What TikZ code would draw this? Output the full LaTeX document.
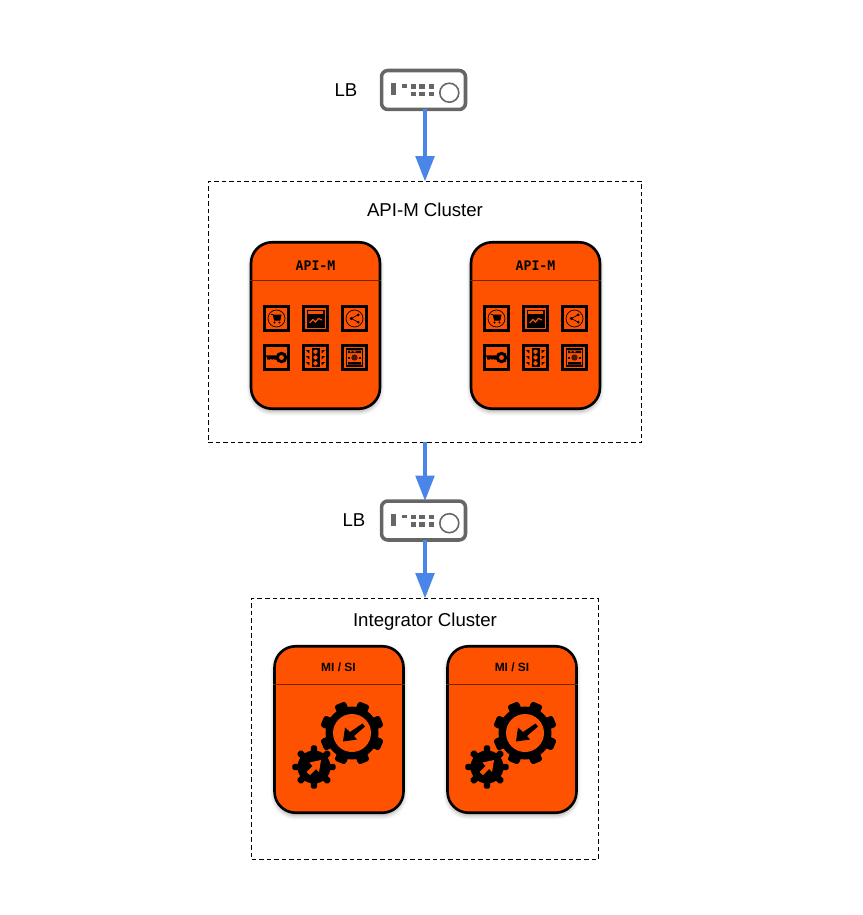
\documentclass[tikz,border=0pt]{standalone}
\usepackage{fontspec}
\setmainfont{Liberation Sans}
\newfontfamily\headfont{DejaVu Sans Mono}
\usepackage{tikz}
\usetikzlibrary{arrows.meta, shadows.blur}
\definecolor{cardorange}{HTML}{FF5200}
\definecolor{flowblue}{HTML}{4A86E8}
\definecolor{lbgray}{HTML}{666666}
\tikzset{
    clusterbox/.style={draw=black, line width=0.55pt, dash pattern=on 2.6pt off 1.7pt, minimum width=8.68cm, minimum height=5.22cm, outer sep=0pt},
    intbox/.style={clusterbox, minimum width=6.94cm},
    lbbox/.style={draw=lbgray, fill=white, line width=2pt, rounded corners=3.6pt, minimum width=1.68cm, minimum height=0.78cm, outer sep=0pt},
    cardbox/.style={draw=black, fill=cardorange, line width=1.5pt, rounded corners=12pt, minimum width=2.58cm, minimum height=3.33cm, blur shadow={shadow xshift=0pt, shadow yshift=-1.5pt, shadow blur steps=6, shadow blur radius=2.5pt, shadow opacity=35}},
    flow/.style={draw=flowblue, line width=2.3pt, -{Triangle[length=14.5pt, width=10.5pt, fill=flowblue]}},
    lbl/.style={font=\fontsize{10.6}{12}\selectfont},
    apihead/.style={font=\headfont\fontsize{7.5}{9}\selectfont\bfseries},
    mihead/.style={font=\fontsize{6.8}{8}\selectfont\bfseries},
    iconframe/.style={draw=black, line width=1.7pt},
    thinline/.style={draw=black, line width=0.4pt},
    headrule/.style={draw=black!55!cardorange, line width=0.45pt},
    lbicon/.pic={
        \fill[lbgray] (-33,-6.7) rectangle (-27.5,5);
        \fill[lbgray] (-22,-6) rectangle (-17,-2.3);
        \foreach \x in {-13,-4.3,5}
            \foreach \y in {-6,1.7}
                \fill[lbgray] (\x,\y) rectangle ++(5.3,4.6);
        \draw[lbgray, line width=0.9pt] (25.8,2.7) circle[radius=9.5];
    },
    apiicons/.pic={
        \foreach \x in {-39,0,39}
            \foreach \y in {-19.5,19.5}
                \draw[iconframe] (\x-12,\y-12) rectangle (\x+12,\y+12);
        \begin{scope}[shift={(-39,-19.5)}]
            \draw[thinline] (0,0) circle[radius=8.5];
            \draw[line width=0.5pt] (-6,-4.5) -- (-4,-4.5);
            \fill (-3.8,-3.8) -- (5,-3.8) -- (3.8,2) -- (-2.4,2) -- cycle;
            \fill (-2,4) circle[radius=1.1] (3,4) circle[radius=1.1];
        \end{scope}
        \begin{scope}[shift={(0,-19.5)}]
            \fill (-9,-9) rectangle (9,9);
            \fill[cardorange] (-7.8,-7.8) rectangle (7.8,-4.6);
            \draw[cardorange, line width=0.7pt] (-6,4.5) -- (-2.5,1) -- (0,3.5) -- (3,0) -- (6.5,1.5);
        \end{scope}
        \begin{scope}[shift={(39,-19.5)}]
            \draw[thinline] (0,0) circle[radius=8.5];
            \draw[line width=0.4pt] (3.7,-3.7) -- (-3.2,0) -- (3.7,3.7);
            \fill (3.7,-3.7) circle[radius=1.5] (3.7,3.7) circle[radius=1.5] (-3.2,0) circle[radius=1.6];
        \end{scope}
        \begin{scope}[shift={(-39,19.5)}]
            \draw[line width=1.7pt] (5,0) circle[radius=4.2];
            \fill (-10.5,-2.2) -- (1,-2.2) -- (1,2.2) -- (-2,2.2) -- (-3,1.4) -- (-4,2.2) -- (-6,1.4) -- (-7,2.2) -- (-9,2.2) -- cycle;
        \end{scope}
        \begin{scope}[shift={(0,19.5)}]
            \fill (-4,-9.5) rectangle (4,9.5);
            \fill[cardorange] (0,-5.8) circle[radius=2.2] (0,0) circle[radius=2.2] (0,5.8) circle[radius=2.2];
            \foreach \y in {-7.5,-1.5,4.5}
                \fill (-9.5,\y) -- (-6.2,\y) -- (-6.2,\y+3.4) -- cycle (9.5,\y) -- (6.2,\y) -- (6.2,\y+3.4) -- cycle;
        \end{scope}
        \begin{scope}[shift={(39,19.5)}]
            \draw[line width=0.8pt] (-8,-8.5) rectangle (8,8.5);
            \fill (-6.5,-7) rectangle (6.5,-4.5) (-6.5,4.5) rectangle (6.5,7);
            \fill (-6.5,-1) rectangle (6.5,1.2);
            \fill[cardorange] (0,0) circle[radius=4.6];
            \fill[black!70!cardorange] (0,0) circle[radius=3.2];
            \fill[cardorange] (-4.5,-6.3) rectangle (-3,-5.2) (-1,-6.3) rectangle (1,-5.2);
        \end{scope}
    },
    biggear/.pic={
        \foreach \a in {22.5,67.5,...,337.5}
            \fill[rotate=\a, rounded corners=1.5pt] (-6,-32) rectangle (6,-20);
        \fill (0,0) circle[radius=26.5];
        \fill[cardorange] (0,0) circle[radius=19];
        \fill (10.5,-9.5) -- (13,-6.5) -- (2,3) -- (5,6.5) -- (-9,8.5) -- (-7,-5.5) -- (-2,-1) -- cycle;
    },
    smallgear/.pic={
        \foreach \a in {0,45,...,315}
            \fill[rotate=\a, rounded corners=1pt] (-3.2,-21.7) rectangle (3.2,-12);
        \fill (0,0) circle[radius=16.5];
        \fill[cardorange] (7,-7) -- (5,5) -- (2,2) -- (-4,8) -- (-7.5,5) -- (-1.5,-1) -- (-4.5,-4.5) -- cycle;
    },
}

\begin{document}
\begin{tikzpicture}[
    x=0.02cm, y=-0.02cm,
]
\useasboundingbox (0,0) rectangle (862,915);
\node[lbbox] (lbtop) at (423.5,90) {};
\node[lbl] (lbtoplabel) at (346,90) {LB};
\node[clusterbox] (apim) at (425,312) {};
\node[lbl] (apimlabel) at (425,210) {API-M Cluster};
\node[cardbox] (apicardleft) at (315.5,325.5) {};
\node[cardbox] (apicardright) at (535.5,325.5) {};
\node[apihead] (apiheadleft) at (315.5,265.5) {API-M};
\node[apihead] (apiheadright) at (535.5,265.5) {API-M};
\node[lbbox] (lbmid) at (423.5,520.5) {};
\node[lbl] (lbmidlabel) at (354,520) {LB};
\node[intbox] (integrator) at (425,729) {};
\node[lbl] (integratorlabel) at (425,621.5) {Integrator Cluster};
\node[cardbox] (micardleft) at (339,729.5) {};
\node[cardbox] (micardright) at (512,729.5) {};
\node[mihead] (miheadleft) at (338.5,667.5) {MI / SI};
\node[mihead] (miheadright) at (512,667.5) {MI / SI};
\draw[headrule] (apicardleft.west |- 0,280) -- (apicardleft.east |- 0,280);
\draw[headrule] (apicardright.west |- 0,280) -- (apicardright.east |- 0,280);
\draw[headrule] (micardleft.west |- 0,684) -- (micardleft.east |- 0,684);
\draw[headrule] (micardright.west |- 0,684) -- (micardright.east |- 0,684);
\pic at (lbtop) {lbicon};
\pic at (lbmid) {lbicon};
\pic[shift={(0,12.5)}] at (apicardleft) {apiicons};
\pic[shift={(0,12.5)}] at (apicardright) {apiicons};
\pic at (352,733) {biggear};
\pic at (314,767) {smallgear};
\pic at (525,733) {biggear};
\pic at (487,767) {smallgear};
\draw[flow] (lbtop.south -| apim.north) -- (apim.north);
\draw[flow] (apim.south) -- (lbmid.north -| apim.south);
\draw[flow] (lbmid.south -| integrator.north) -- (integrator.north);
\end{tikzpicture}
\end{document}
